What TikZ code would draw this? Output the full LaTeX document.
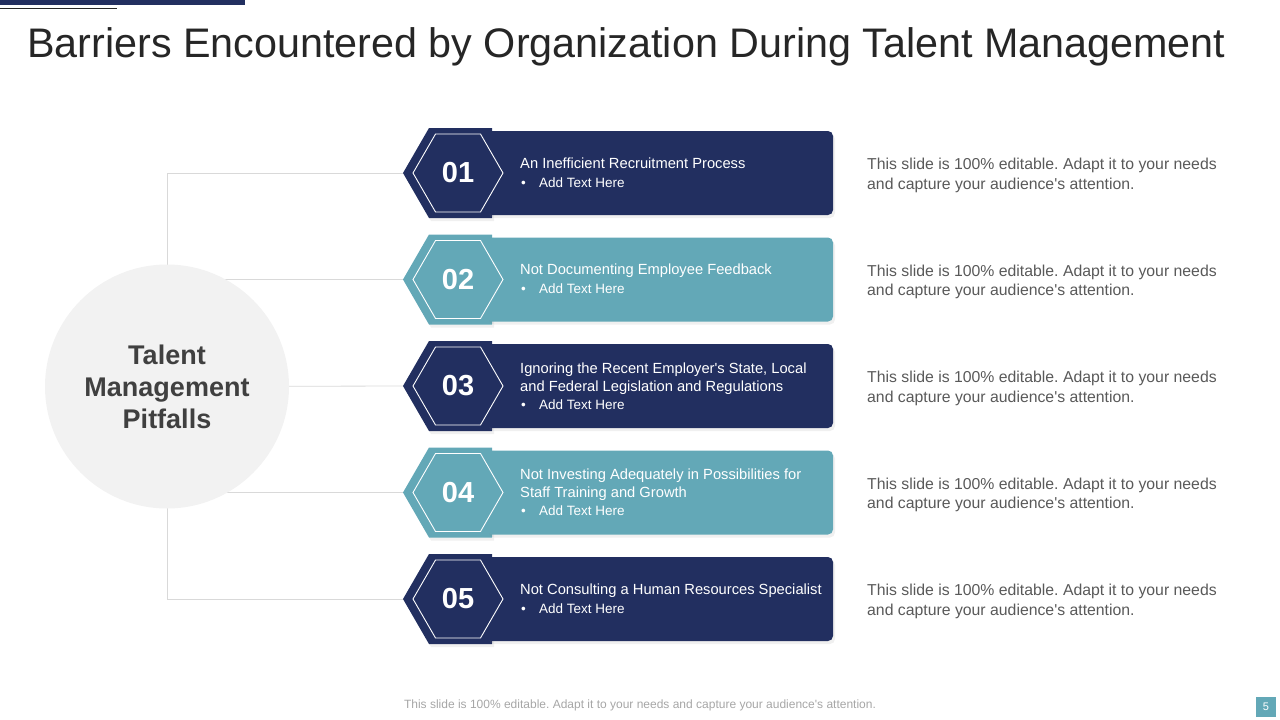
\documentclass[tikz,border=0pt]{standalone}
\usepackage{fontspec}
\setmainfont{Liberation Sans}
\usetikzlibrary{shapes.geometric,backgrounds,shadows}
\frenchspacing

\definecolor{slidenavy}{RGB}{34,47,96}
\definecolor{slideteal}{RGB}{99,168,183}
\definecolor{hubgrey}{RGB}{242,242,242}
\definecolor{hubtext}{RGB}{64,64,64}
\definecolor{bodygrey}{RGB}{89,89,89}
\definecolor{linegrey}{RGB}{217,217,217}
\definecolor{titlegrey}{RGB}{38,38,38}
\definecolor{footgrey}{RGB}{166,166,166}

\tikzset{
  softshadow/.style={drop shadow={shadow xshift=2pt,shadow yshift=-3pt,opacity=.12}},
  rowbox/.style={rounded corners=5pt,minimum width=346pt,minimum height=84pt,inner sep=0pt,softshadow},
  hexa/.style={regular polygon,regular polygon sides=6,minimum size=90pt,inner sep=0pt,
    draw=white,line width=.9pt,text=white,font=\bfseries\fontsize{29}{29}\selectfont},
  itemhead/.style={anchor=base west,inner sep=0pt,text=white,font=\fontsize{14.7}{18}\selectfont},
  itembullet/.style={anchor=base west,inner sep=0pt,text=white,font=\fontsize{13.5}{16}\selectfont},
  sidetext/.style={anchor=base west,inner sep=0pt,text=bodygrey,font=\fontsize{15.8}{19}\selectfont},
  connector/.style={draw=linegrey,line width=.8pt}
}

\begin{document}
\begin{tikzpicture}[x=1pt,y=-1pt]
  \useasboundingbox (0,0) rectangle (1280,720);

  % top corner bars and title
  \fill[slidenavy] (0,0) rectangle (245,4.5);
  \draw[titlegrey,line width=.8pt] (0,8) -- (117,8);
  \node (title) [anchor=base west,inner sep=0pt,text=titlegrey,font=\fontsize{41.3}{41.3}\selectfont]
    at (27,57) {Barriers Encountered by Organization During Talent Management};

  % hub circle
  \node (hub) [circle,fill=hubgrey,minimum size=244pt,inner sep=0pt,align=center,
    text=hubtext,font=\bfseries\fontsize{27}{32}\selectfont] at (167,386.5)
    {Talent\\Management\\Pitfalls};

  % row 1
  \fill[slidenavy,softshadow] (403,173) -- (429,128) -- (492,128) -- (492,218) -- (429,218) -- cycle;
  \node (box1) [rowbox,fill=slidenavy] at (660,173) {};
  \node (hex1) [hexa] at (458,173) {01};
  \node (head1) [itemhead] at (520,168) {An Inefficient Recruitment Process};
  \node (bul1) [itembullet] at (521,187) {\makebox[18pt][l]{•}Add Text Here};
  \node (side1a) [sidetext] at (867,169.5) {This slide is 100\% editable. Adapt it to your needs};
  \node (side1b) [sidetext] at (867,189) {and capture your audience\textquotesingle s attention.};

  % row 2
  \fill[slideteal,softshadow] (403,279.5) -- (429,234.5) -- (492,234.5) -- (492,324.5) -- (429,324.5) -- cycle;
  \node (box2) [rowbox,fill=slideteal] at (660,279.5) {};
  \node (hex2) [hexa] at (458,279.5) {02};
  \node (head2) [itemhead] at (520,274.5) {Not Documenting Employee Feedback};
  \node (bul2) [itembullet] at (521,293.5) {\makebox[18pt][l]{•}Add Text Here};
  \node (side2a) [sidetext] at (867,276) {This slide is 100\% editable. Adapt it to your needs};
  \node (side2b) [sidetext] at (867,295.5) {and capture your audience\textquotesingle s attention.};

  % row 3
  \fill[slidenavy,softshadow] (403,386) -- (429,341) -- (492,341) -- (492,431) -- (429,431) -- cycle;
  \node (box3) [rowbox,fill=slidenavy] at (660,386) {};
  \node (hex3) [hexa] at (458,386) {03};
  \node (head3a) [itemhead] at (520,373) {Ignoring the Recent Employer\textquotesingle s State, Local};
  \node (head3b) [itemhead] at (520,391) {and Federal Legislation and Regulations};
  \node (bul3) [itembullet] at (521,409) {\makebox[18pt][l]{•}Add Text Here};
  \node (side3a) [sidetext] at (867,382.5) {This slide is 100\% editable. Adapt it to your needs};
  \node (side3b) [sidetext] at (867,402) {and capture your audience\textquotesingle s attention.};

  % row 4
  \fill[slideteal,softshadow] (403,492.5) -- (429,447.5) -- (492,447.5) -- (492,537.5) -- (429,537.5) -- cycle;
  \node (box4) [rowbox,fill=slideteal] at (660,492.5) {};
  \node (hex4) [hexa] at (458,492.5) {04};
  \node (head4a) [itemhead] at (520,479.5) {Not Investing Adequately in Possibilities for};
  \node (head4b) [itemhead] at (520,497.5) {Staff Training and Growth};
  \node (bul4) [itembullet] at (521,515.5) {\makebox[18pt][l]{•}Add Text Here};
  \node (side4a) [sidetext] at (867,489) {This slide is 100\% editable. Adapt it to your needs};
  \node (side4b) [sidetext] at (867,508.5) {and capture your audience\textquotesingle s attention.};

  % row 5
  \fill[slidenavy,softshadow] (403,599) -- (429,554) -- (492,554) -- (492,644) -- (429,644) -- cycle;
  \node (box5) [rowbox,fill=slidenavy] at (660,599) {};
  \node (hex5) [hexa] at (458,599) {05};
  \node (head5) [itemhead] at (520,594) {Not Consulting a Human Resources Specialist};
  \node (bul5) [itembullet] at (521,613) {\makebox[18pt][l]{•}Add Text Here};
  \node (side5a) [sidetext] at (867,595.5) {This slide is 100\% editable. Adapt it to your needs};
  \node (side5b) [sidetext] at (867,615) {and capture your audience\textquotesingle s attention.};

  % connectors behind the hub
  \begin{scope}[on background layer]
    \draw[connector] (hub.center) |- (hex1.west);
    \draw[connector] (hex2.west) -- (hex2.west -| hub.center);
    \draw[connector] (hex3.west) -- (hub.center);
    \draw[connector] (hex4.west) -- (hex4.west -| hub.center);
    \draw[connector] (hub.center) |- (hex5.west);
  \end{scope}

  % footer
  \node (footer) [anchor=base,inner sep=0pt,text=footgrey,font=\fontsize{12}{12}\selectfont] at (640,708)
    {This slide is 100\% editable. Adapt it to your needs and capture your audience\textquotesingle s attention.};
  \node (pagenum) [fill=slideteal,minimum size=20pt,inner sep=0pt,text=white,
    font=\fontsize{11}{11}\selectfont] at (1266,707) {5};
\end{tikzpicture}
\end{document}
